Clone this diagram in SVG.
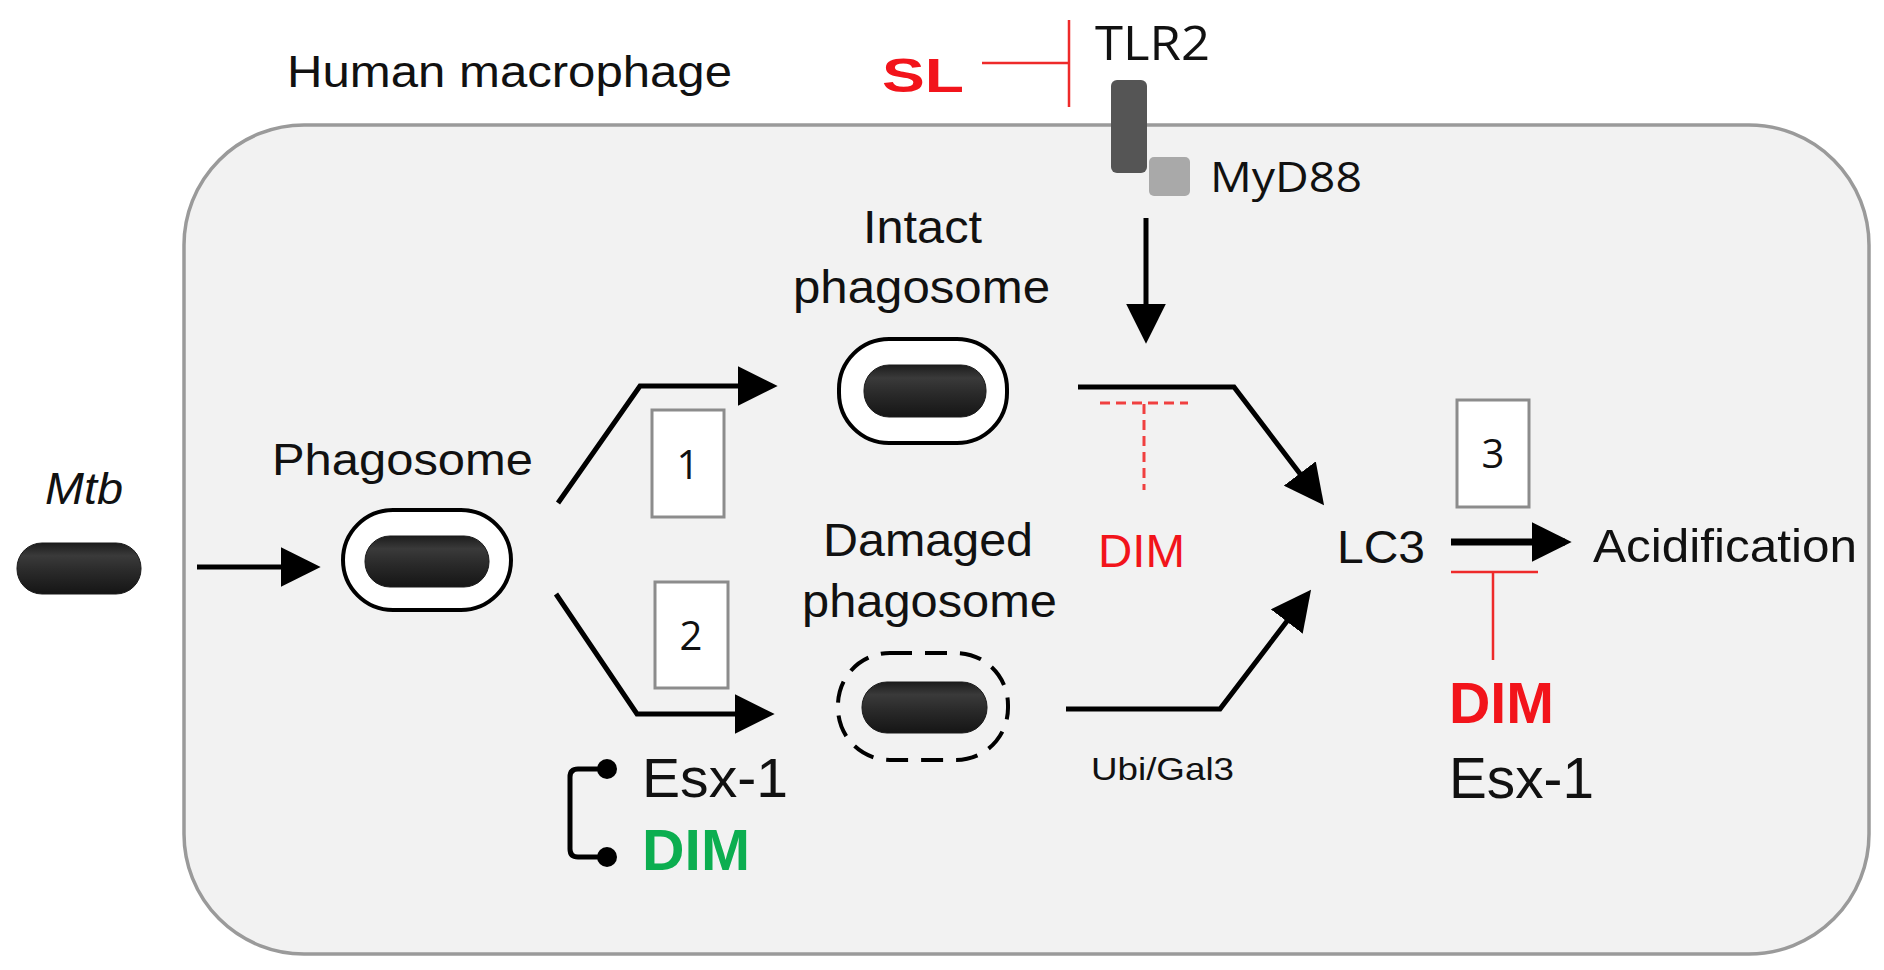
<svg xmlns="http://www.w3.org/2000/svg" width="1884" height="970" viewBox="0 0 1884 970">
<defs>
<style>
.t{font-family:"Liberation Sans",Arial,sans-serif;fill:#111}
.o{font-family:"Open Sans","Liberation Sans",sans-serif;fill:#111}
.red{fill:#f2141b}
.grn{fill:#0cae50}
.b{font-weight:bold}
.ln{fill:none;stroke:#000;stroke-width:5;stroke-linejoin:miter}
.inh{fill:none;stroke:#ee2a2a;stroke-width:2.5}
.box{fill:#fff;stroke:#8c8c8c;stroke-width:3}
.cap{fill:#fff;stroke:#000;stroke-width:4}
.bact{fill:url(#bg);stroke:#1a1a1a;stroke-width:1}
</style>
<linearGradient id="bg" x1="0" y1="0" x2="0" y2="1">
<stop offset="0" stop-color="#1c1c1c"/>
<stop offset="0.25" stop-color="#3a3a3a"/>
<stop offset="0.55" stop-color="#2a2a2a"/>
<stop offset="1" stop-color="#151515"/>
</linearGradient>
<marker id="ah" markerUnits="userSpaceOnUse" markerWidth="40" markerHeight="40" viewBox="0 0 36 36" refX="30" refY="18" orient="auto">
<path d="M0,0 L36,18 L0,36 z" fill="#000"/>
</marker>
</defs>

<g id="cell">
<rect x="184" y="125" width="1685" height="829" rx="120" ry="120" fill="#f2f2f2" stroke="#9a9a9a" stroke-width="3.5"/>
<text class="t" x="287" y="87" font-size="44" textLength="445" lengthAdjust="spacingAndGlyphs">Human macrophage</text>
</g>

<g id="tlr2">
<rect x="1111" y="80" width="36" height="93" rx="6" fill="#555"/>
<text class="o" x="1095" y="60" font-size="47" textLength="115" lengthAdjust="spacingAndGlyphs">TLR2</text>
</g>

<g id="myd88">
<rect x="1149" y="157" width="41" height="39" rx="5" fill="#a9a9a9"/>
<text class="o" x="1210" y="192" font-size="42" textLength="152" lengthAdjust="spacingAndGlyphs">MyD88</text>
</g>

<g id="sl">
<text class="t red b" x="882" y="92" font-size="49" textLength="82" lengthAdjust="spacingAndGlyphs">SL</text>
</g>

<g id="mtb">
<text class="t" x="45" y="504" font-size="45" font-style="italic" textLength="78" lengthAdjust="spacingAndGlyphs">Mtb</text>
<rect class="bact" x="17" y="543" width="124" height="51" rx="25"/>
</g>

<g id="phagosome">
<text class="t" x="272" y="475" font-size="44" textLength="261" lengthAdjust="spacingAndGlyphs">Phagosome</text>
<rect class="cap" x="343" y="510" width="168" height="100" rx="50"/>
<rect class="bact" x="365" y="536" width="124" height="51" rx="25"/>
</g>

<g id="intact">
<text class="t" x="863" y="243" font-size="46" textLength="119" lengthAdjust="spacingAndGlyphs">Intact</text>
<text class="t" x="793" y="303" font-size="46" textLength="257" lengthAdjust="spacingAndGlyphs">phagosome</text>
<rect class="cap" x="839" y="339" width="168" height="104" rx="50"/>
<rect class="bact" x="864" y="365" width="122" height="52" rx="25"/>
</g>

<g id="damaged">
<text class="t" x="823" y="556" font-size="46" textLength="210" lengthAdjust="spacingAndGlyphs">Damaged</text>
<text class="t" x="802" y="617" font-size="46" textLength="255" lengthAdjust="spacingAndGlyphs">phagosome</text>
<rect x="838" y="653" width="170" height="107" rx="52" fill="none" stroke="#000" stroke-width="4" stroke-dasharray="22,13"/>
<rect class="bact" x="862" y="682" width="125" height="51" rx="25"/>
</g>

<g id="box1">
<rect class="box" x="652" y="410" width="72" height="107"/>
<text class="o" x="688" y="479" font-size="40" text-anchor="middle">1</text>
</g>
<g id="box2">
<rect class="box" x="655" y="582" width="73" height="106"/>
<text class="o" x="691" y="650" font-size="40" text-anchor="middle">2</text>
</g>
<g id="box3">
<rect class="box" x="1457" y="400" width="72" height="107"/>
<text class="o" x="1493" y="468" font-size="40" text-anchor="middle">3</text>
</g>

<g id="esx1-dim-left">
<text class="t" x="642" y="797" font-size="56" textLength="146" lengthAdjust="spacingAndGlyphs">Esx-1</text>
<text class="t grn b" x="642" y="870" font-size="58" textLength="108" lengthAdjust="spacingAndGlyphs">DIM</text>
</g>

<g id="dim-mid">
<text class="t red" x="1098" y="567" font-size="47" textLength="87" lengthAdjust="spacingAndGlyphs">DIM</text>
</g>

<g id="lc3">
<text class="t" x="1337" y="563" font-size="46" textLength="88" lengthAdjust="spacingAndGlyphs">LC3</text>
</g>

<g id="acidification">
<text class="t" x="1593" y="562" font-size="47" textLength="264" lengthAdjust="spacingAndGlyphs">Acidification</text>
</g>

<g id="ubi-gal3">
<text class="t" x="1091" y="780" font-size="32" textLength="143" lengthAdjust="spacingAndGlyphs">Ubi/Gal3</text>
</g>

<g id="dim-esx1-right">
<text class="t red b" x="1449" y="723" font-size="58" textLength="105" lengthAdjust="spacingAndGlyphs">DIM</text>
<text class="t" x="1449" y="798" font-size="58" textLength="145" lengthAdjust="spacingAndGlyphs">Esx-1</text>
</g>

<g id="connectors">
<line class="ln" x1="197" y1="567" x2="314" y2="567" marker-end="url(#ah)"/>
<polyline class="ln" points="558,503 640,386 771,386" marker-end="url(#ah)"/>
<polyline class="ln" points="556,594 637,714 768,714" marker-end="url(#ah)"/>
<line class="ln" x1="1146" y1="218" x2="1146" y2="337" marker-end="url(#ah)"/>
<polyline class="ln" points="1078,387 1234,387 1320,500" marker-end="url(#ah)"/>
<polyline class="ln" points="1066,709 1220,709 1307,595" marker-end="url(#ah)"/>
<line x1="1451" y1="542" x2="1565" y2="542" stroke="#000" stroke-width="7" marker-end="url(#ah)"/>
<path class="inh" d="M982,63 H1069 M1069,20 V107"/>
<path fill="none" stroke="#f04040" stroke-width="3" stroke-dasharray="10,6" d="M1100,403 H1188 M1144,404 V490"/>
<path class="inh" d="M1451,572 H1538 M1493,572 V660"/>
<path class="ln" stroke-width="4" d="M607,769 H578 Q570,769 570,777 V849 Q570,857 578,857 H607"/>
<circle cx="607" cy="769" r="10" fill="#000"/>
<circle cx="607" cy="857" r="10" fill="#000"/>
</g>
</svg>
